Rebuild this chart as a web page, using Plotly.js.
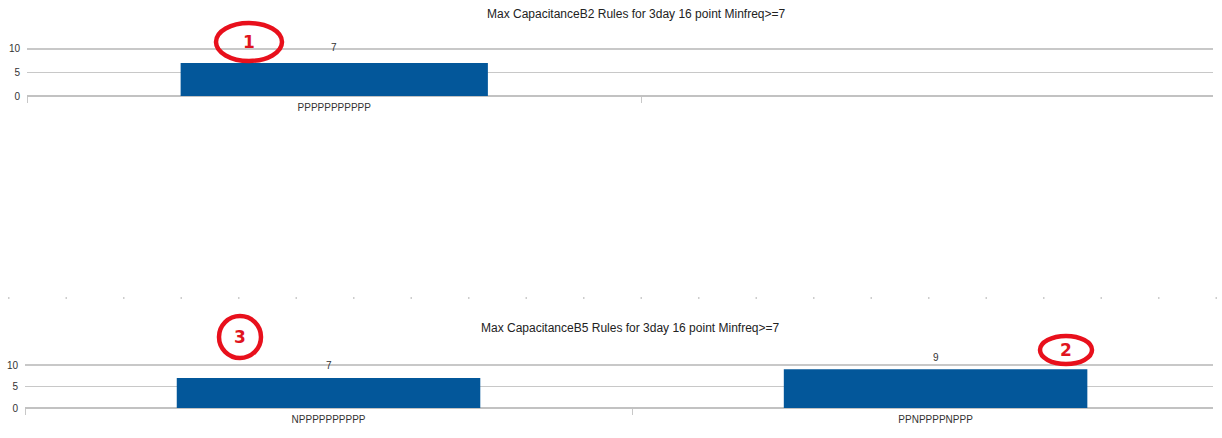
<!DOCTYPE html>
<html>
<head>
<meta charset="utf-8">
<script src="https://cdn.plot.ly/plotly-3.0.1.min.js"></script>
<style>html,body{margin:0;padding:0;background:#fff;}#chart{width:1222px;height:438px;}</style>
</head>
<body>
<div id="chart"></div>
<script>
// ---- data ----
const topTitle = "Max CapacitanceB2 Rules for 3day 16 point Minfreq>=7";
const topCategories = ["PPPPPPPPPPP", " "];
const topValues = [7, null];

const bottomTitle = "Max CapacitanceB5 Rules for 3day 16 point Minfreq>=7";
const bottomCategories = ["NPPPPPPPPPP", "PPNPPPPNPPP"];
const bottomValues = [7, 9];

const yTickVals = [0, 5, 10];
const yTickText = ["0", "5", "10"];
const markerLabels = ["1", "2", "3"];

// ---- helpers ----
const W = 1222, H = 438;
const px = x => x / W;
const py = y => 1 - y / H;
const FONT = "Liberation Sans Narrow, Liberation Sans, Arial, sans-serif";
const BAR = "#03579a";

const traces = [
  {type: "bar", x: topCategories, y: topValues, xaxis: "x", yaxis: "y",
   marker: {color: BAR}, width: 0.5, hoverinfo: "x+y"},
  {type: "bar", x: bottomCategories, y: bottomValues, xaxis: "x2", yaxis: "y2",
   marker: {color: BAR}, width: 0.5, hoverinfo: "x+y"}
];

const yax = dom => ({
  domain: dom, range: [0, 10.4], tickvals: yTickVals, ticktext: yTickText,
  showgrid: true, gridcolor: "#c8c8c8", gridwidth: 1.6,
  zeroline: true, zerolinecolor: "#c2c2c2", zerolinewidth: 1.6,
  showline: false, ticks: "", ticklabelstandoff: 6,
  tickfont: {family: FONT, size: 10, color: "#333"}, fixedrange: true
});
const xax = (dom, rng, anchor) => ({
  domain: dom, range: rng, type: "category", anchor: anchor,
  showgrid: false, zeroline: false, showline: false,
  ticks: "outside", tickson: "boundaries", ticklen: 6, tickcolor: "#c8c8c8", tickwidth: 1,
  tickfont: {family: FONT, size: 10, color: "#333"}, ticklabelstandoff: 4, fixedrange: true
});

const annotations = [];
// value labels
topCategories.forEach((c, i) => {
  if (topValues[i] == null) return;
  annotations.push({xref: "x", yref: "y", x: c, y: topValues[i], text: String(topValues[i]),
    showarrow: false, yanchor: "middle", yshift: 16, font: {family: FONT, size: 10, color: "#333"}});
});
bottomCategories.forEach((c, i) => {
  annotations.push({xref: "x2", yref: "y2", x: c, y: bottomValues[i], text: String(bottomValues[i]),
    showarrow: false, yanchor: "middle", yshift: 12, font: {family: FONT, size: 10, color: "#333"}});
});
// titles
annotations.push({xref: "paper", yref: "paper", x: px(636), y: py(14), text: topTitle, showarrow: false,
  xanchor: "center", yanchor: "middle", font: {family: FONT, size: 12, color: "#222"}});
annotations.push({xref: "paper", yref: "paper", x: px(630), y: py(328), text: bottomTitle, showarrow: false,
  xanchor: "center", yanchor: "middle", font: {family: FONT, size: 12, color: "#222"}});
// red circle numbers
const circ = [
  {t: markerLabels[0], cx: 249, cy: 42, rx: 33, ry: 19},
  {t: markerLabels[1], cx: 1066, cy: 350, rx: 26, ry: 14},
  {t: markerLabels[2], cx: 240, cy: 337, rx: 21, ry: 21}
];
const shapes = [];
circ.forEach(c => {
  shapes.push({type: "circle", xref: "paper", yref: "paper",
    x0: px(c.cx - c.rx), x1: px(c.cx + c.rx), y0: py(c.cy + c.ry), y1: py(c.cy - c.ry),
    line: {color: "#e8101c", width: 4.5}, fillcolor: "rgba(0,0,0,0)"});
  annotations.push({xref: "paper", yref: "paper", x: px(c.cx), y: py(c.cy), text: "<b>" + c.t + "</b>",
    showarrow: false, xanchor: "center", yanchor: "middle",
    font: {family: "DejaVu Sans, Arial, sans-serif", size: 17, color: "#e0141e"}});
});
// dotted separator
shapes.push({type: "line", xref: "paper", yref: "paper", x0: px(8), x1: 1, y0: py(298), y1: py(298),
  line: {color: "#bdbdbd", width: 1.5, dash: "1.5px,56px"}});

const layout = {
  width: W, height: H,
  margin: {l: 0, r: 0, t: 0, b: 0},
  paper_bgcolor: "#ffffff", plot_bgcolor: "#ffffff",
  showlegend: false, bargap: 0.5,
  xaxis: xax([px(27), px(1213)], [-0.5, 1.43], "y"),
  yaxis: yax([py(96), py(47.1)]),
  xaxis2: xax([px(25), px(1213)], [-0.5, 1.457], "y2"),
  yaxis2: yax([py(408), py(363.3)]),
  annotations: annotations,
  shapes: shapes
};
layout.yaxis2.anchor = "x2";
layout.yaxis.anchor = "x";

Plotly.newPlot("chart", traces, layout, {displayModeBar: false, staticPlot: true});
</script>
</body>
</html>
